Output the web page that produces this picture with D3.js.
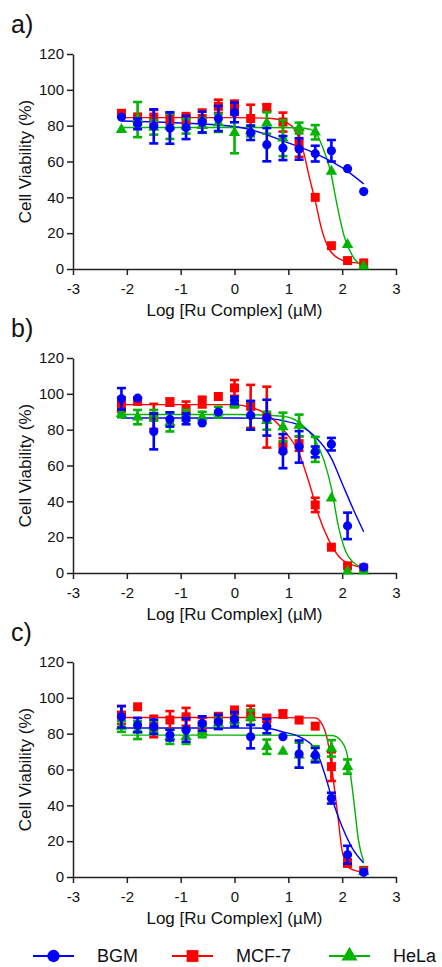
<!DOCTYPE html>
<html>
<head>
<meta charset="utf-8">
<script src="https://cdn.jsdelivr.net/npm/d3@7"></script>
<style>
  body { margin: 0; background: #fff; }
  svg text { font-family: Arial, "Liberation Sans", sans-serif; fill: #111; }
  .axis path, .axis line { stroke: #222; stroke-width: 1.5; }
  .axis text { font-size: 15px; }
</style>
</head>
<body>
<div id="chart"></div>
<script>
// Tick labels and categories
var xTicks = [-3, -2, -1, 0, 1, 2, 3],
    yTicks = [0, 20, 40, 60, 80, 100, 120],
    seriesNames = ["BGM", "MCF-7", "HeLa"],
    panelLabels = ["a)", "b)", "c)"];

// Log concentrations (µM) of the measured points
var logConc = [-2.1, -1.8, -1.5, -1.2, -0.9, -0.6, -0.3, 0, 0.3, 0.6, 0.9, 1.2, 1.5, 1.8, 2.1, 2.4];

// Panel a) - mean viability and error (0 = no bar)
var aBGM     = [84.8, 81, 79.6, 78.7, 79, 82, 84, 87.4, 76, 69.4, 67.5, 67, 64.4, 66, 56, 43.2],
    aBGMErr  = [0, 3, 9.5, 8.8, 6.5, 5.8, 7, 5.5, 4, 9.3, 6.7, 6, 4.4, 6, 0, 0],
    aMCF7    = [86.7, 83.7, 84.8, 84, 84, 84, 90.8, 90, 84, 90, 82, 70, 40, 13, 4.7, 3.4],
    aMCF7Err = [2, 3, 4, 3, 3, 5, 3.7, 4, 7.7, 2, 5.3, 7.4, 0, 0, 0, 0],
    aHeLa    = [77.8, 83.4, 79, 79.6, 79.6, 80, 81.5, 76, 77, 81.5, 73, 78.7, 76.3, 54.5, 13.6, 1.5],
    aHeLaErr = [0, 9.8, 4, 7, 4, 4, 5, 11.4, 3, 6, 10, 3, 4, 0, 0, 0];

// Panel a) - fitted curves as [log conc, viability]
var aBGMFit  = [[-2.1, 82.6], [-1, 81.5], [0, 79.5], [0.5, 76], [0.9, 71.5], [1.5, 64.5], [2.1, 54.5], [2.4, 47.5]],
    aMCF7Fit = [[-2.1, 84.5], [0, 84.5], [0.7, 84], [0.95, 82], [1.1, 78.5], [1.25, 69], [1.4, 50], [1.5, 38], [1.62, 22], [1.75, 11.5], [1.95, 5.6], [2.1, 4], [2.4, 3.2]],
    aHeLaFit = [[-2.1, 79], [0, 79], [1.2, 78.8], [1.4, 78], [1.5, 76.5], [1.63, 68.5], [1.79, 53.6], [1.91, 35], [2.04, 18], [2.22, 6], [2.4, 1.5]];

// Panel b)
var bBGM     = [97.2, 97.6, 79, 85.7, 86, 83.7, 89.8, 96.3, 88, 86.7, 68, 70.4, 67.6, 71.9, 26.3, 3.3],
    bBGMErr  = [6, 0, 10, 4, 3, 0, 0, 2, 8, 10, 9.5, 8.8, 3, 3.5, 7.4, 0],
    bMCF7    = [94, 96, 87.4, 95.4, 91.7, 95.4, 98.5, 103.3, 93, 87, 71.3, 72.2, 38, 14.4, 4, 2.8],
    bMCF7Err = [4, 2, 7, 2, 4, 3, 0, 4.4, 12, 17, 4, 4, 4, 0, 0, 0],
    bHeLa    = [88.9, 87, 88, 84, 88, 87, 89.8, 94.4, 88, 85, 81.5, 82.4, 69, 41.7, 1, 1],
    bHeLaErr = [2, 4, 3, 5, 3, 3, 3, 2, 8, 5, 8, 6, 7, 0, 0, 0];

var bBGMFit  = [[-2.1, 86.5], [0, 86.5], [0.6, 86.3], [0.9, 85], [1.2, 82.5], [1.5, 76], [1.8, 64], [2.0, 50], [2.2, 36], [2.4, 23]],
    bMCF7Fit = [[-2.1, 94], [0, 94], [0.3, 92.5], [0.58, 89], [0.89, 80.5], [1.2, 66.7], [1.41, 48], [1.57, 31.5], [1.75, 18.5], [2.0, 7.4], [2.4, 2.8]],
    bHeLaFit = [[-2.1, 88.5], [0, 88.5], [0.9, 87.5], [1.2, 84], [1.5, 74], [1.66, 63], [1.81, 46], [1.93, 26], [2.12, 9], [2.4, 2.8]];

// Panel c)
var cBGM     = [89.4, 84.8, 83.9, 79.2, 82, 85.7, 86.6, 88, 78.3, 84.2, 78.3, 68.6, 68, 44, 12.4, 2.6],
    cBGMErr  = [6, 4, 4, 3, 6.5, 4, 4, 4, 6.5, 4, 0, 7.6, 4, 3, 5, 0],
    cMCF7    = [90.4, 95, 84, 87.6, 89.4, 84.8, 88.5, 93, 91.6, 88.5, 91, 87.6, 84.2, 61.6, 7.8, 3.7],
    cMCF7Err = [5, 0, 6, 5, 5, 4, 3, 2, 4, 2, 2, 0, 0, 8, 2, 0],
    cHeLa    = [84, 82, 84, 78.3, 78.3, 81, 85.7, 87.6, 89, 72.7, 70, 68, 69, 71.8, 61.6, 3],
    cHeLaErr = [3, 5, 3, 4, 4, 3, 3, 2, 4, 4, 0, 7, 4, 4.6, 4, 0];

var cBGMFit  = [[-2.1, 83.2], [0, 83.2], [0.6, 83], [0.9, 81], [1.2, 78.3], [1.51, 71], [1.67, 58], [1.82, 43], [2.0, 28], [2.19, 16], [2.4, 7.8]],
    cMCF7Fit = [[-2.1, 89], [0, 89], [1.5, 88.8], [1.6, 86.6], [1.73, 76], [1.82, 58], [1.92, 34], [2.01, 13], [2.16, 4.5], [2.4, 2.6]],
    cHeLaFit = [[-2.1, 79.2], [0, 79.2], [1.8, 79], [1.89, 78.3], [2.07, 71], [2.16, 56], [2.23, 39], [2.3, 21], [2.4, 8.7]];

var panels = [
  { label: panelLabels[0], top: 54,
    series: [[aBGM, aBGMErr, aBGMFit], [aMCF7, aMCF7Err, aMCF7Fit], [aHeLa, aHeLaErr, aHeLaFit]] },
  { label: panelLabels[1], top: 358,
    series: [[bBGM, bBGMErr, bBGMFit], [bMCF7, bMCF7Err, bMCF7Fit], [bHeLa, bHeLaErr, bHeLaFit]] },
  { label: panelLabels[2], top: 662,
    series: [[cBGM, cBGMErr, cBGMFit], [cMCF7, cMCF7Err, cMCF7Fit], [cHeLa, cHeLaErr, cHeLaFit]] }
];

var colors = ["#0000ff", "#ff0000", "#00b400"],
    symbols = [d3.symbolCircle, d3.symbolSquare, d3.symbolTriangle],
    symbolSizes = [66, 81, 56],
    drawOrder = [1, 2, 0];   // red, green, then blue on top

var width = 442, height = 967,
    plotLeft = 73, plotRight = 396, plotHeight = 215;

var svg = d3.select("#chart").append("svg")
    .attr("width", width)
    .attr("height", height);

var x = d3.scaleLinear().domain([-3, 3]).range([plotLeft, plotRight]);

panels.forEach(function(p) {
    var y = d3.scaleLinear().domain([0, 120]).range([p.top + plotHeight, p.top]);
    var g = svg.append("g");

    // Panel letter
    g.append("text")
        .attr("x", 11)
        .attr("y", p.top - 21)
        .style("font-size", "25px")
        .text(p.label);

    // Axes (plain hyphen for negatives, as in the figure)
    g.append("g")
        .attr("class", "axis")
        .attr("transform", "translate(0," + (p.top + plotHeight) + ")")
        .call(d3.axisBottom(x).tickValues(xTicks).tickFormat(function(d) { return String(d); })
            .tickSize(6).tickSizeOuter(0).tickPadding(5))
        .call(function(a) { a.selectAll("text").attr("dy", "0.9em"); });

    g.append("g")
        .attr("class", "axis")
        .attr("transform", "translate(" + plotLeft + ",0)")
        .call(d3.axisLeft(y).tickValues(yTicks).tickFormat(function(d) { return String(d); })
            .tickSize(6).tickSizeOuter(0).tickPadding(3));

    // Axis titles
    g.append("text")
        .attr("text-anchor", "middle")
        .attr("x", x(0))
        .attr("y", p.top + plotHeight + 47)
        .style("font-size", "17px")
        .text("Log [Ru Complex] (\u00b5M)");

    g.append("text")
        .attr("text-anchor", "middle")
        .attr("transform", "translate(31," + (p.top + plotHeight / 2) + ") rotate(-90)")
        .style("font-size", "17px")
        .text("Cell Viability (%)");

    var line = d3.line()
        .x(function(d) { return x(d[0]); })
        .y(function(d) { return y(d[1]); })
        .curve(d3.curveMonotoneX);

    // Fitted curves
    drawOrder.forEach(function(s) {
        g.append("path")
            .datum(p.series[s][2])
            .attr("fill", "none")
            .attr("stroke", colors[s])
            .attr("stroke-width", 1.4)
            .attr("d", line);
    });

    // Error bars and markers
    drawOrder.forEach(function(s) {
        var vals = p.series[s][0], errs = p.series[s][1];
        var pts = logConc.map(function(c, i) { return { x: c, v: vals[i], e: errs[i] }; });
        var sg = g.append("g");

        var bars = sg.selectAll(".err")
            .data(pts.filter(function(d) { return d.e > 0; }))
            .enter().append("g")
            .attr("stroke", colors[s])
            .attr("stroke-width", 2.6);
        bars.append("line")
            .attr("x1", function(d) { return x(d.x); })
            .attr("x2", function(d) { return x(d.x); })
            .attr("y1", function(d) { return y(d.v - d.e); })
            .attr("y2", function(d) { return y(d.v + d.e); });
        [-1, 1].forEach(function(sign) {
            bars.append("line")
                .attr("x1", function(d) { return x(d.x) - 4.5; })
                .attr("x2", function(d) { return x(d.x) + 4.5; })
                .attr("y1", function(d) { return y(d.v + sign * d.e); })
                .attr("y2", function(d) { return y(d.v + sign * d.e); });
        });

        sg.selectAll(".dot")
            .data(pts)
            .enter().append("path")
            .attr("transform", function(d) { return "translate(" + x(d.x) + "," + y(d.v) + ")"; })
            .attr("d", d3.symbol().type(symbols[s]).size(symbolSizes[s]))
            .attr("fill", colors[s]);
    });
});

// Legend
var legendX = [33, 172, 329], legendY = 956;
var legend = svg.append("g").selectAll("g")
    .data(seriesNames)
    .enter().append("g")
    .attr("transform", function(d, i) { return "translate(" + legendX[i] + "," + legendY + ")"; });

legend.append("line")
    .attr("x1", 0).attr("x2", 41)
    .attr("stroke", function(d, i) { return colors[i]; })
    .attr("stroke-width", 2);

legend.append("path")
    .attr("transform", "translate(20.5,0)")
    .attr("d", function(d, i) { return d3.symbol().type(symbols[i]).size([120, 140, 110][i])(); })
    .attr("fill", function(d, i) { return colors[i]; });

legend.append("text")
    .attr("x", 64)
    .attr("dy", "0.36em")
    .style("font-size", "18px")
    .text(function(d) { return d; });
</script>
</body>
</html>
